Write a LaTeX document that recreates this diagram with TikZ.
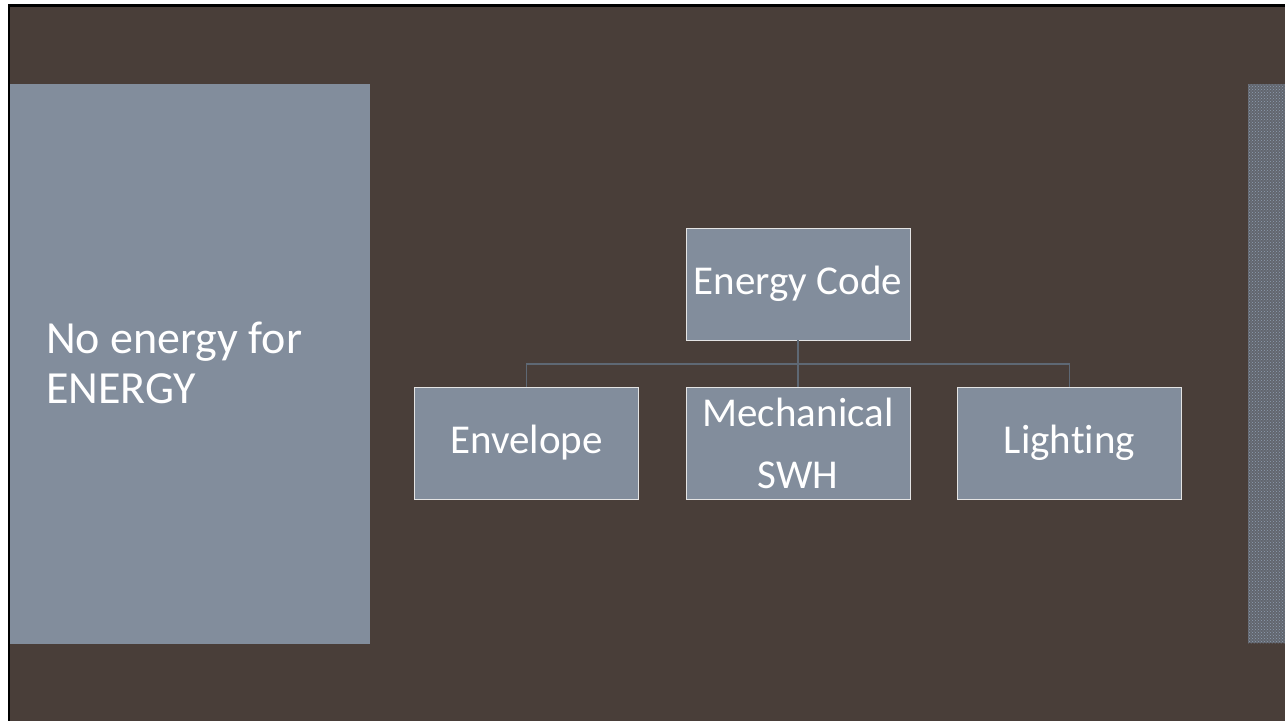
\documentclass[tikz,border=0pt]{standalone}
\usepackage{fontspec}
\setmainfont[Ligatures=NoCommon]{Carlito}
\usetikzlibrary{patterns}
\definecolor{bgbrown}{HTML}{493E39}
\definecolor{panel}{HTML}{828D9C}
\definecolor{texture}{HTML}{62666E}
\definecolor{texdot}{HTML}{8E9DB2}
\definecolor{conn}{HTML}{5E6874}
\definecolor{boxline}{HTML}{E4E4E4}
\tikzset{
  orgbox/.style={draw=boxline, line width=0.9pt, fill=panel, text=white,
    minimum width=224pt, minimum height=112pt, inner sep=0pt, align=center,
    font=\fontsize{41}{62}\selectfont},
  link/.style={draw=conn, line width=1.3pt}
}
\begin{document}
\begin{tikzpicture}[x=1pt,y=-1pt]
\useasboundingbox (0,0) rectangle (1285,721);
\fill[white] (0,0) rectangle (1285,721);
\fill[black] (8,4) rectangle (1285,721);
\fill[bgbrown] (10,7) rectangle (1285,721);
% left panel
\fill[panel] (10,84) rectangle (370,644);
\node[anchor=west, text=white, align=left, font=\fontsize{46}{50}\selectfont, inner sep=0pt] (title) at (46,363) {No energy for\\ENERGY};
% right textured panel
\fill[texture] (1248,84) rectangle (1285,643);
\fill[pattern=crosshatch dots, pattern color=texdot] (1248,84) rectangle (1285,643);
% org chart
\node[orgbox] (root) at (798,284) {Energy Code};
\node[orgbox] (env) at (526.5,443) {Envelope};
\node[orgbox] (mech) at (798,443) {Mechanical\\SWH};
\node[orgbox] (light) at (1069.5,443) {Lighting};
\coordinate (bus) at (798,364);
\draw[link] (root.south) -- (bus);
\draw[link] (env.north) |- (bus) -| (light.north);
\draw[link] (bus) -- (mech.north);
\end{tikzpicture}
\end{document}
